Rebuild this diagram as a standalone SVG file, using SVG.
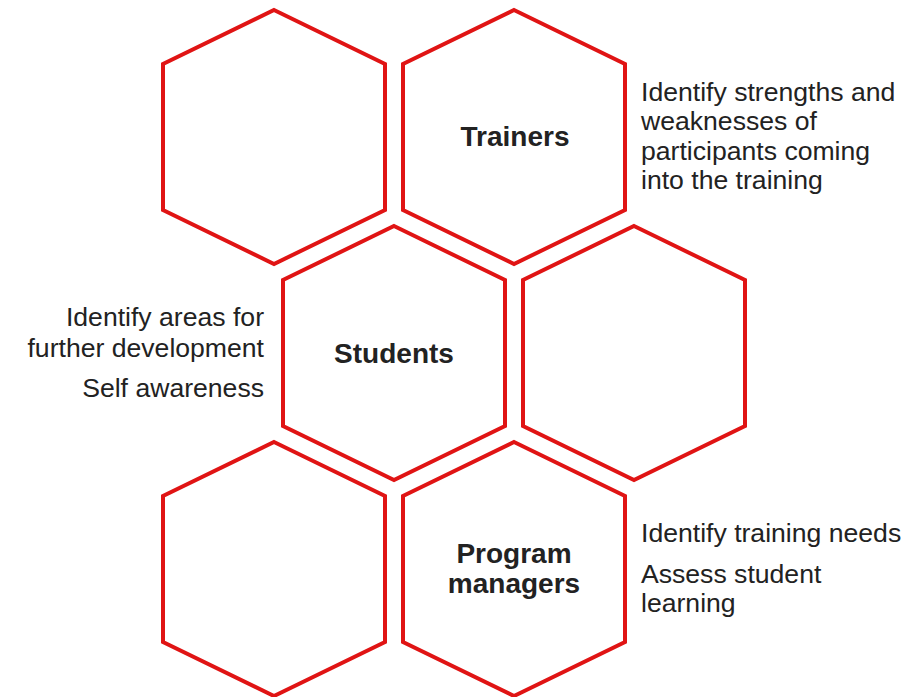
<svg xmlns="http://www.w3.org/2000/svg" width="923" height="697" viewBox="0 0 923 697">
<defs>
<style>
.hex{fill:#ffffff;stroke:#e01414;stroke-width:4;stroke-linejoin:miter}
.lbl{font-family:"Liberation Sans",Arial,sans-serif;font-weight:bold;font-size:28px;fill:#222222;text-anchor:middle}
.txt{font-family:"Liberation Sans",Arial,sans-serif;font-size:26.6px;fill:#222222}
.r{text-anchor:end}
</style>
<polygon id="hexshape" points="0,-127 111,-73 111,73 0,127 -111,73 -111,-73"/>
</defs>
<rect width="923" height="697" fill="#ffffff"/>
<g id="connectors"></g>
<g id="hex1"><use href="#hexshape" class="hex" x="274" y="137"/></g>
<g id="trainers"><use href="#hexshape" class="hex" x="514" y="137"/><text class="lbl" x="515" y="146">Trainers</text></g>
<g id="students"><use href="#hexshape" class="hex" x="394" y="353"/><text class="lbl" x="394" y="363">Students</text></g>
<g id="hex4"><use href="#hexshape" class="hex" x="634" y="353"/></g>
<g id="hex5"><use href="#hexshape" class="hex" x="274" y="569"/></g>
<g id="programmanagers"><use href="#hexshape" class="hex" x="514" y="569"/><text class="lbl" x="514" y="563">Program</text><text class="lbl" x="514" y="593">managers</text></g>
<g id="trainers-text">
<text class="txt" x="641" y="101">Identify strengths and</text>
<text class="txt" x="641" y="130">weaknesses of</text>
<text class="txt" x="641" y="160">participants coming</text>
<text class="txt" x="641" y="189">into the training</text>
</g>
<g id="students-text">
<text class="txt r" x="264" y="326">Identify areas for</text>
<text class="txt r" x="264" y="357">further development</text>
<text class="txt r" x="264" y="397">Self awareness</text>
</g>
<g id="managers-text">
<text class="txt" x="641" y="542">Identify training needs</text>
<text class="txt" x="641" y="583">Assess student</text>
<text class="txt" x="641" y="612">learning</text>
</g>
</svg>
